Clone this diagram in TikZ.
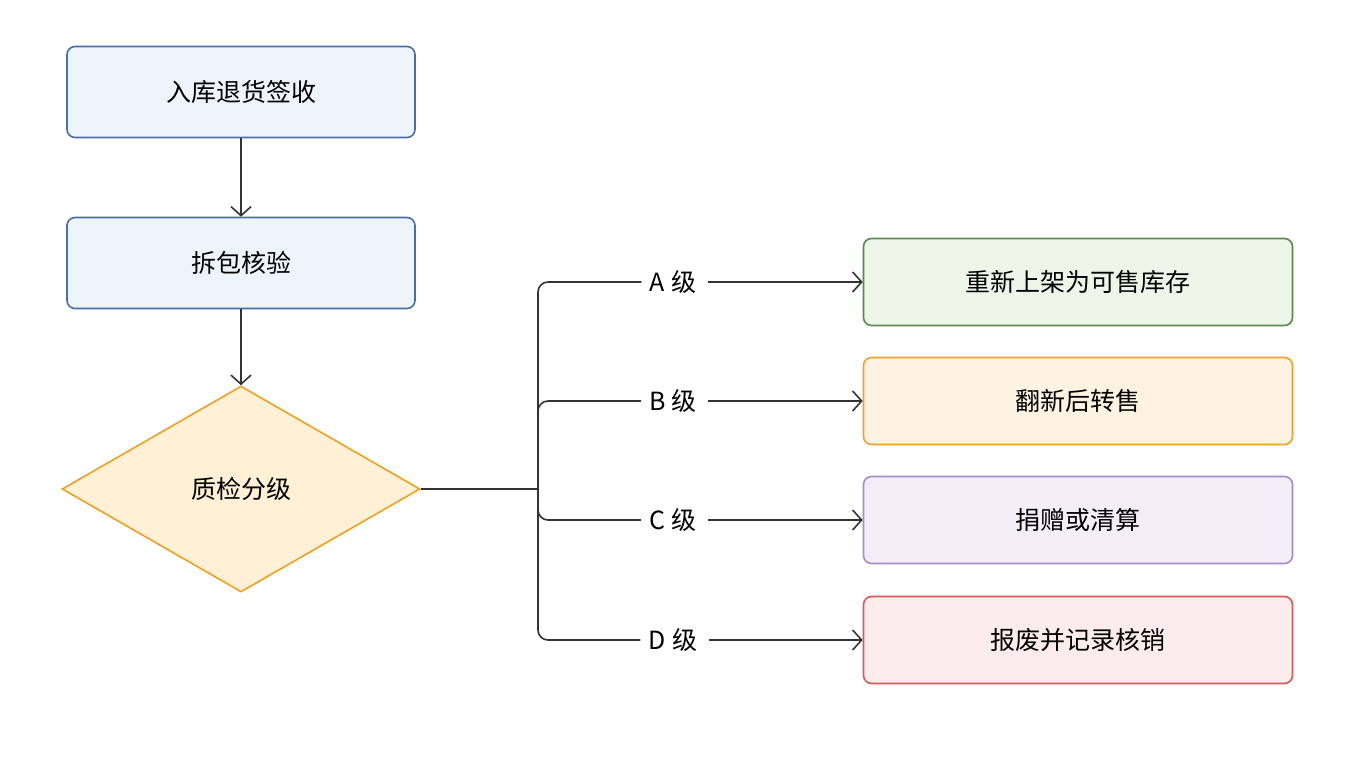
\documentclass[tikz,border=0pt]{standalone}
\usepackage{fontspec}
\setmainfont{Noto Sans CJK SC}
\usetikzlibrary{arrows.meta, positioning, shapes.geometric}
\definecolor{lineGray}{HTML}{333333}
\definecolor{blueFill}{HTML}{EEF4FC}\definecolor{blueDraw}{HTML}{4A6FA5}
\definecolor{greenFill}{HTML}{EEF6EA}\definecolor{greenDraw}{HTML}{5B8A4A}
\definecolor{orangeFill}{HTML}{FEF3E2}\definecolor{orangeDraw}{HTML}{F0A030}
\definecolor{purpleFill}{HTML}{F3EEF8}\definecolor{purpleDraw}{HTML}{A98BC9}
\definecolor{redFill}{HTML}{FDECEC}\definecolor{redDraw}{HTML}{D9585A}
\definecolor{diaFill}{HTML}{FFF0D6}\definecolor{diaDraw}{HTML}{F0A020}

\begin{document}
\begin{tikzpicture}[x=1pt, y=-1pt,
    every node/.style={font=\fontsize{25}{30}\selectfont, text=black},
    procBox/.style={rectangle, rounded corners=8pt, line width=1.6pt, minimum width=348pt, minimum height=91pt},
    gradeBox/.style={rectangle, rounded corners=8pt, line width=1.6pt, minimum width=429pt, minimum height=87pt},
    conn/.style={lineGray, line width=1.6pt},
    arr/.style={conn, -{Straight Barb[length=9pt, width=20pt, line width=1.6pt]}}]
            \fill[white] (0,0) rectangle (1360,768);
            \node[procBox, draw=blueDraw, fill=blueFill] (recv) at (241,92) {入库退货签收};
            \node[procBox, draw=blueDraw, fill=blueFill] (unpack) at (241,263) {拆包核验};
            \node[diamond, draw=diaDraw, fill=diaFill, line width=1.6pt, minimum width=358pt, minimum height=206pt, inner sep=0pt] (qc) at (241,489) {质检分级};
            \coordinate (split) at (538,489);
            \foreach \g/\y/\c/\t in {A/282/green/重新上架为可售库存, B/401/orange/翻新后转售, C/520/purple/捐赠或清算, D/640/red/报废并记录核销} {
                \node (l\g) at (673,\y) {\g\hspace{6pt}级};
                \node[gradeBox, draw=\c Draw, fill=\c Fill] (g\g) at (1078,\y) {\t};
                \draw[conn, rounded corners=10pt] (split) |- ([xshift=-5pt]l\g.west);
                \draw[arr] ([xshift=8pt]l\g.east) -- (g\g.west);
            }
            \draw[arr] (recv) -- (unpack);
            \draw[arr] (unpack) -- (qc.north);
            \draw[conn] (qc.east) -- (split);
        \end{tikzpicture}
\end{document}
